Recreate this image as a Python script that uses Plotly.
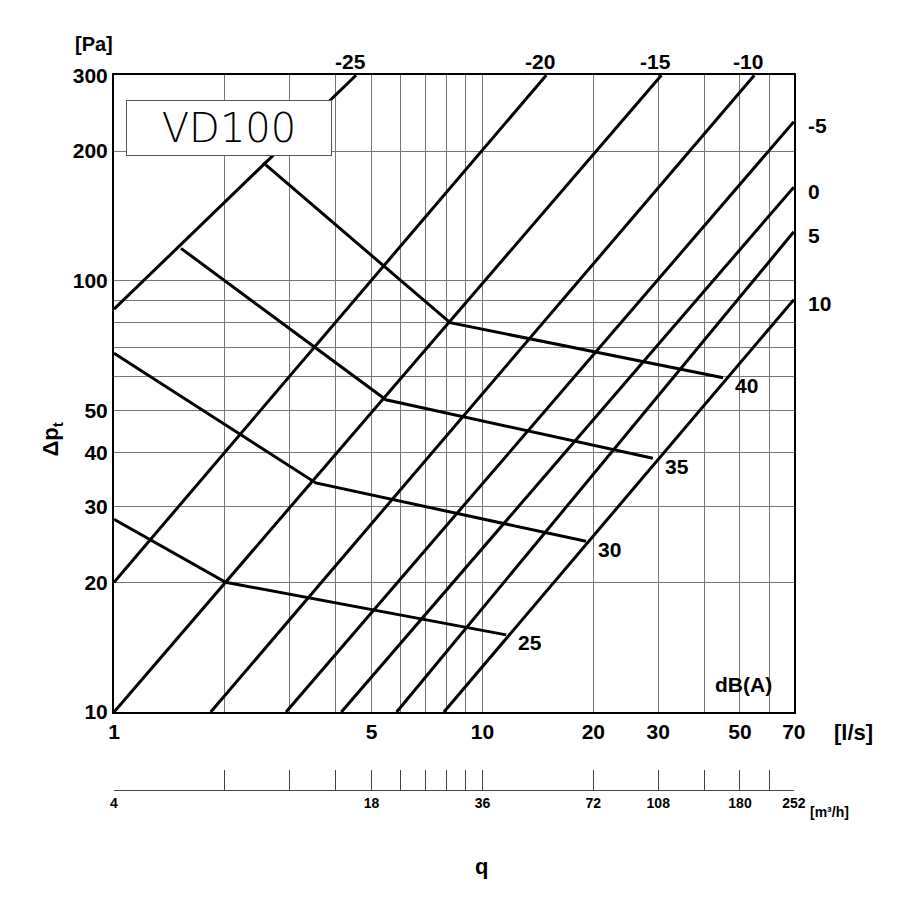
import math
import plotly.graph_objects as go

# Diagonal damper-setting lines (endpoints, l/s and Pa)
set_labels = ["-25", "-20", "-15", "-10", "-5", "0", "5", "10"]
set_q = [[1, 4.54], [1, 14.9], [1, 30.6], [1.83, 54.7], [2.93, 70], [4.14, 70], [5.85, 70], [7.86, 70]]
set_p = [[86, 300], [20, 300], [10, 300], [10, 300], [10, 234], [10, 165], [10, 130], [10, 90.5]]

# Sound level lines dB(A)
db_labels = ["40", "35", "30", "25"]
db_q = [[2.54, 8.17, 45], [1.52, 5.47, 29], [1, 3.53, 19.1], [1, 2.01, 11.6]]
db_p = [[188, 80, 59.6], [119, 53, 38.8], [68, 34, 24.9], [28, 20, 15.1]]

x_grid = [1, 2, 3, 4, 5, 6, 7, 8, 9, 10, 20, 30, 40, 50, 60, 70]
x_lab = ["1", "", "", "", "5", "", "", "", "", "10", "20", "30", "", "50", "", "70"]
y_grid = [10, 20, 30, 40, 50, 60, 70, 80, 90, 100, 200, 300]
y_lab = ["10", "20", "30", "40", "50", "", "", "", "", "100", "200", "300"]
m3h_lab = ["4", "", "", "", "18", "", "", "", "", "36", "72", "108", "", "180", "", "252"]

F = "Liberation Sans"
XR = [0, math.log10(70) + 0.0005]
YR = [1, math.log10(300) + 0.0005]
L = math.log10

fig = go.Figure()
for q, p in zip(set_q, set_p):
    fig.add_trace(go.Scatter(x=q, y=p, mode="lines", line=dict(color="black", width=3), showlegend=False))
for q, p in zip(db_q, db_p):
    fig.add_trace(go.Scatter(x=q, y=p, mode="lines", line=dict(color="black", width=3), showlegend=False))
fig.add_trace(go.Scatter(x=[1, 70], y=[None, None], xaxis="x2", showlegend=False))

ann = []
for lab, q, p in zip(set_labels, set_q, set_p):
    if p[1] >= 300:
        ann.append(dict(x=L(q[1]), y=L(300), text=lab, yanchor="bottom", yshift=0, xshift=-6))
    else:
        ann.append(dict(x=L(q[1]), y=L(p[1]), text=lab, xanchor="left", xshift=12, yshift=-4))
for lab, q, p in zip(db_labels, db_q, db_p):
    ann.append(dict(x=L(q[-1]), y=L(p[-1]), text=lab, xanchor="left", xshift=10, yshift=-8))
ann.append(dict(x=L(62), y=L(11.6), text="dB(A)", xanchor="right"))
for a in ann:
    a.update(xref="x", yref="y", showarrow=False, font=dict(family=F, size=21, color="black", weight="bold"))

ann += [
    dict(xref="paper", yref="paper", x=-0.06, y=1.0, yanchor="bottom", yshift=18,
         text="[Pa]", font=dict(family=F, size=20)),
    dict(xref="paper", yref="paper", x=1.0, y=0.109, xanchor="left", yanchor="top", xshift=38, yshift=-6,
         text="[l/s]", font=dict(family=F, size=22)),
    dict(xref="paper", yref="paper", x=1.0, y=0, xanchor="left", yanchor="top", xshift=14, yshift=-12,
         text="[m³/h]", font=dict(family=F, size=14)),
    dict(xref="paper", yref="paper", x=0.54, y=0, yanchor="top", yshift=-62,
         text="q", font=dict(family=F, size=22)),
    dict(xref="paper", yref="paper", x=-0.115, y=0.49, text="Δp<sub>t</sub>", textangle=-90,
         font=dict(family=F, size=22)),
    dict(xref="paper", yref="paper", x=0.018, y=0.965, xanchor="left", yanchor="top",
         text="VD100", font=dict(family="DejaVu Sans", size=40, weight=200),
         bordercolor="#555", borderwidth=1, bgcolor="white", borderpad=2, width=200, height=50),
]
for a in ann:
    a["showarrow"] = False
    a["font"].setdefault("color", "black")
    a["font"].setdefault("weight", "bold")

fig.update_layout(
    width=907, height=907, plot_bgcolor="white", paper_bgcolor="white",
    margin=dict(l=106, r=121, t=67, b=125, autoexpand=False),
    annotations=ann,
    font=dict(family=F, size=21, color="black", weight="bold"),
    xaxis=dict(type="log", range=XR, tickvals=x_grid, ticktext=x_lab, showgrid=True, automargin=False,
               gridcolor="#777", gridwidth=1, showline=True, linecolor="black", linewidth=2, mirror=True,
               ticks="", anchor="y", zeroline=False),
    yaxis=dict(type="log", range=YR, domain=[0.109, 1], tickvals=y_grid, ticktext=y_lab, automargin=False,
               showgrid=True, gridcolor="#777", gridwidth=1, showline=True, linecolor="black", linewidth=2,
               mirror=True, ticks=""),
    xaxis2=dict(type="log", range=XR, anchor="free", position=0, overlaying="x", side="bottom",
                tickvals=x_grid, ticktext=m3h_lab, ticks="inside", ticklen=20, tickcolor="#444",
                showline=True, linecolor="#444", linewidth=1, showgrid=False, automargin=False,
                tickfont=dict(family=F, size=14, color="black", weight="bold")),
)
fig.write_html("out.html")
